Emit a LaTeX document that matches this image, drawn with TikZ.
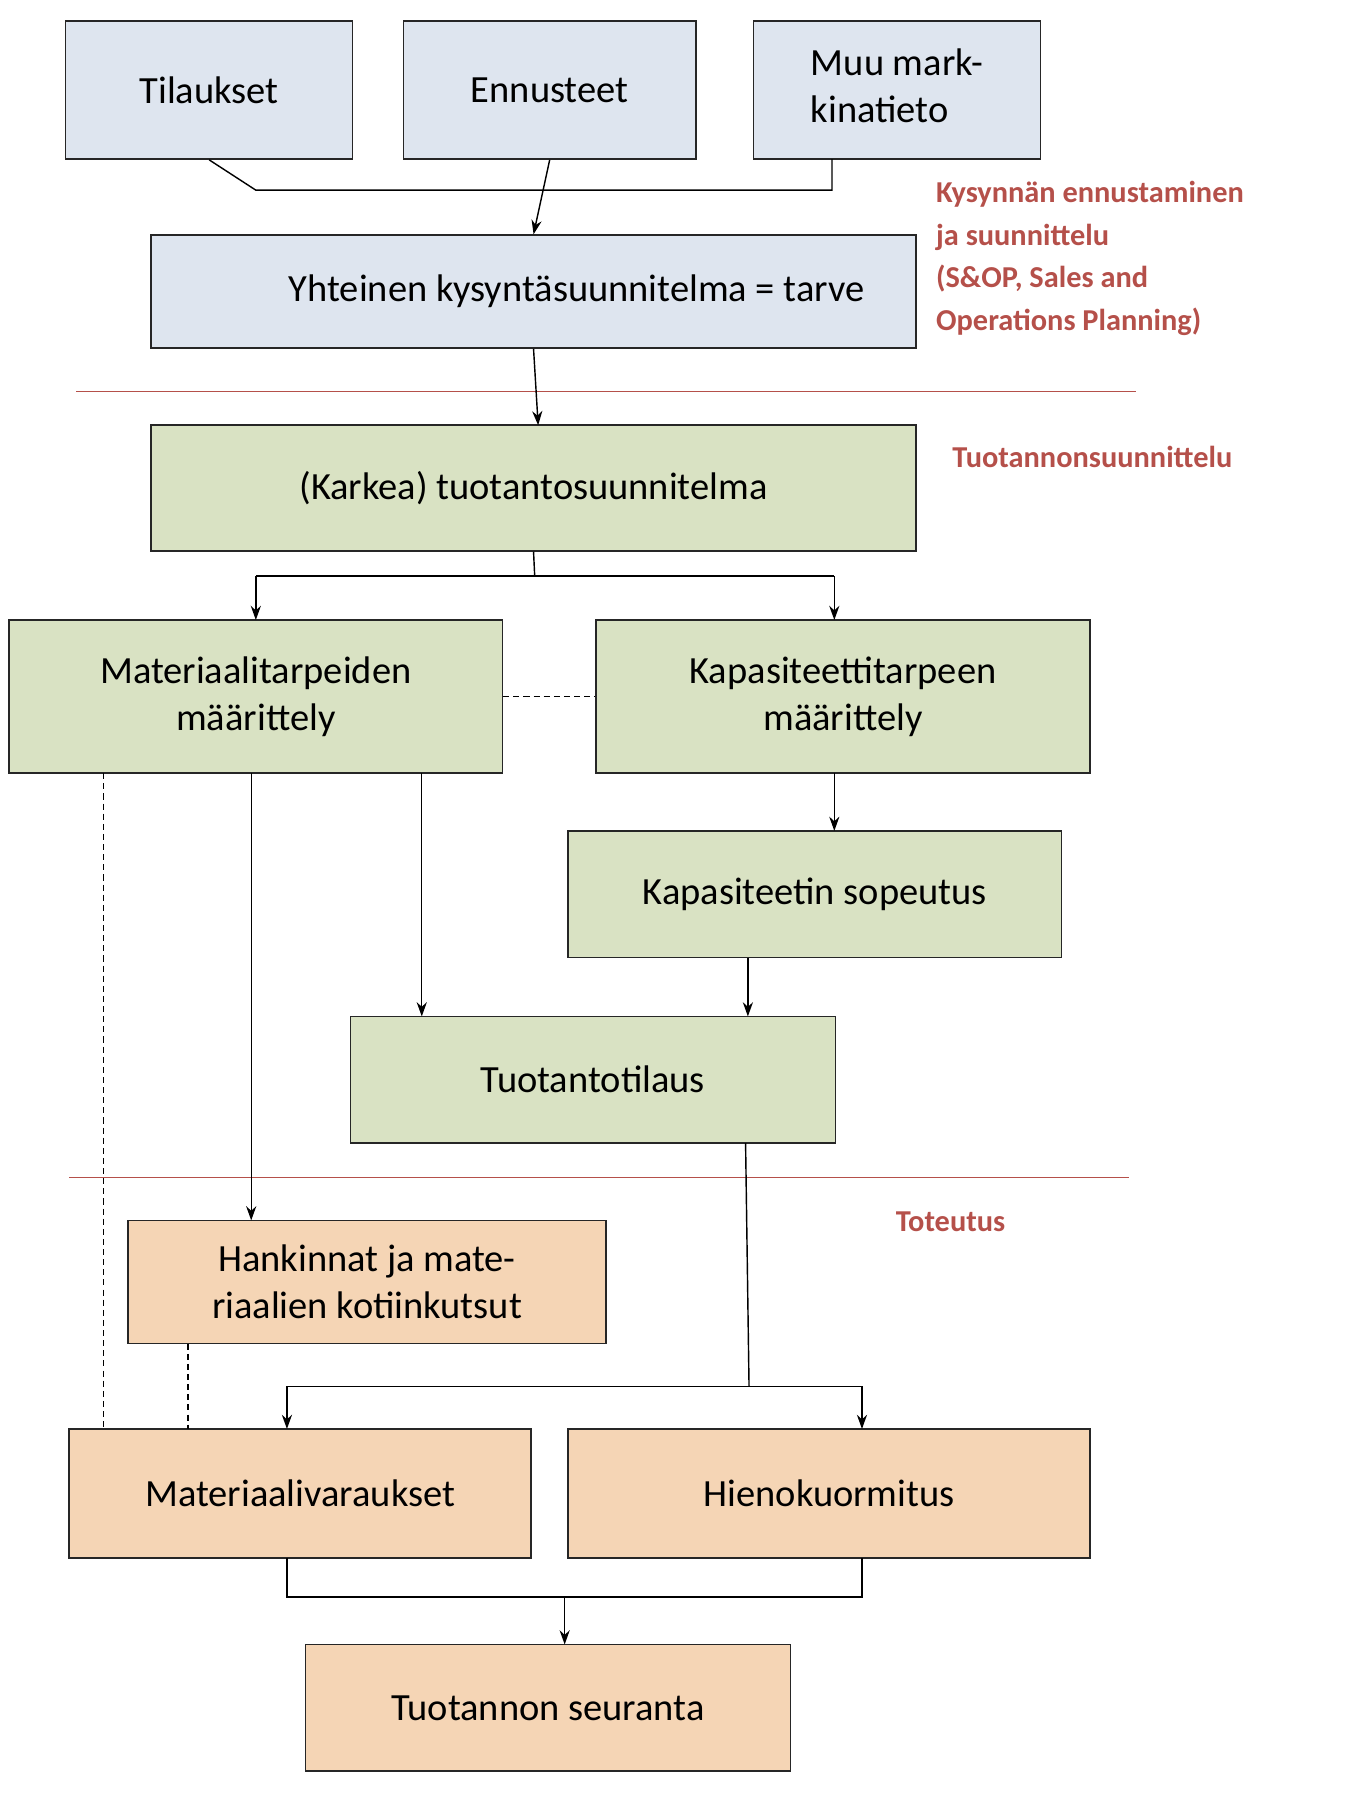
\documentclass[tikz,border=0pt]{standalone}
\usepackage{fontspec}
\setmainfont{Carlito}
\usetikzlibrary{arrows.meta}
\definecolor{cb}{HTML}{DEE5EF}
\definecolor{cg}{HTML}{D9E2C3}
\definecolor{co}{HTML}{F5D5B5}
\definecolor{rd}{HTML}{B5504A}
\newcommand\bx[7]{%
 \pgfmathsetmacro\cx{(#2+#4)/2}\pgfmathsetmacro\cy{(#3+#5)/2}%
 \pgfmathsetmacro\ww{(#4-#2)*0.02}\pgfmathsetmacro\hh{(#5-#3)*0.02}%
 \node[box,fill=#6,minimum width=\ww cm,minimum height=\hh cm] (#1) at (\cx,\cy) {#7};}
\begin{document}
\begin{tikzpicture}[x=0.02cm,y=-0.02cm,
 box/.style={draw=black!85,line width=0.8pt,inner sep=0pt,align=center,font=\fontsize{19}{23}\selectfont},
 ar/.style={-{Stealth[length=7pt,width=5pt]},line width=0.7pt},
 ln/.style={line width=0.7pt},
 dsh/.style={line width=0.7pt,dash pattern=on 3pt off 2pt},
 lab/.style={text=rd,font=\fontsize{15}{21}\selectfont\bfseries,align=left,anchor=north west,inner sep=0pt}]
\useasboundingbox (0,0) rectangle (1170,1562);
\bx{a}{57}{18}{306}{138}{cb}{Tilaukset}
\bx{b}{350}{18}{604}{138}{cb}{Ennusteet}
\bx{c}{654}{18}{903}{138}{cb}{\begin{tabular}{@{}l@{}}Muu mark-\\kinatieto\end{tabular}}
\bx{d}{131}{204}{795}{302}{cb}{\hspace*{1.5cm}Yhteinen kysyntäsuunnitelma = tarve}
\bx{e}{131}{369}{795}{478}{cg}{(Karkea) tuotantosuunnitelma}
\bx{f}{8}{538}{436}{671}{cg}{Materiaalitarpeiden\\määrittely}
\bx{g}{517}{538}{946}{671}{cg}{Kapasiteettitarpeen\\määrittely}
\bx{h}{493}{721}{921}{831}{cg}{Kapasiteetin sopeutus}
\bx{i}{304}{882}{725}{992}{cg}{Tuotantotilaus}
\bx{j}{111}{1059}{526}{1166}{co}{Hankinnat ja mate-\\riaalien kotiinkutsut}
\bx{k}{60}{1240}{461}{1352}{co}{Materiaalivaraukset}
\bx{l}{493}{1240}{946}{1352}{co}{Hienokuormitus}
\bx{m}{265}{1427}{686}{1537}{co}{Tuotannon seuranta}
\draw[rd,line width=0.6pt] (66,340) -- (986,340);
\draw[rd,line width=0.6pt] (60,1022) -- (980,1022);
\node[lab] (t1) at (812,157) {Kysynnän ennustaminen\\ja suunnittelu\\(S\&OP, Sales and\\Operations Planning)};
\node[lab] (t2) at (826,387) {Tuotannonsuunnittelu};
\node[lab] (t3) at (777,1051) {Toteutus};
\draw[ln] (a.south) -- (222,165) -| (722,138);
\draw[ar] (b.south) -- (d.north);
\draw[ar] (d.south) -- (467,369);
\draw[ln] (e.south) -- (464,500);
\draw[ar] (222,500) -- (222,538);
\draw[ar] (724,500) -- (724,538);
\draw[ln] (222,500) -- (724,500);
\draw[dsh] (f.east) -- (g.west);
\draw[ar] (724,671) -- (724,721);
\draw[ar] (649,831) -- (649,882);
\draw[ar] (366,671) -- (366,882);
\draw[ar] (218,671) -- (218,1059);
\draw[dsh] (90,671) -- (90,1240);
\draw[dsh] (163,1166) -- (163,1240);
\draw[ln] (647,992) -- (650,1203);
\draw[ln] (249,1203) -- (748,1203);
\draw[ar] (249,1203) -- (249,1240);
\draw[ar] (748,1203) -- (748,1240);
\draw[ln] (249,1352) -- (249,1386) -- (748,1386) -- (748,1352);
\draw[ar] (490,1386) -- (490,1427);
\end{tikzpicture}
\end{document}
